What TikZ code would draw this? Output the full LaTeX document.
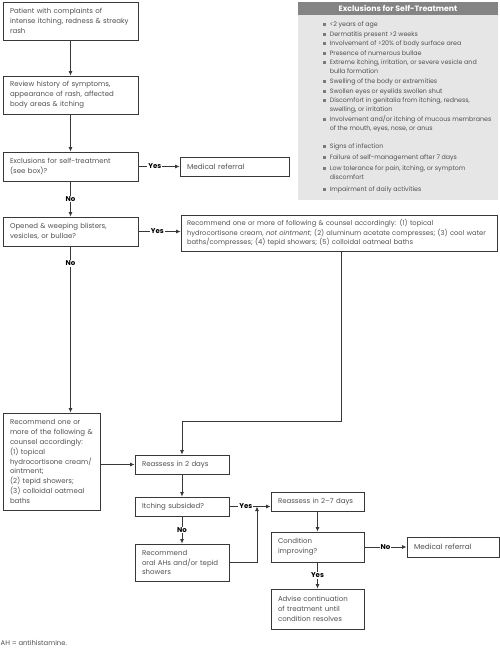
\documentclass[tikz,border=0pt]{standalone}
\usepackage{fontspec}
\setmainfont{Poppins}
\usetikzlibrary{arrows.meta,calc}
\definecolor{txt}{HTML}{505050}
\definecolor{ln}{HTML}{383838}
\definecolor{panel}{HTML}{E6E6E7}
\definecolor{head}{HTML}{848484}
\definecolor{bul}{HTML}{7A7A7A}
\newcommand{\bulsq}{\textcolor{bul}{\rule[0.6pt]{2.6pt}{2.6pt}}\hspace{4pt}}
\begin{document}
\begin{tikzpicture}[x=1pt,y=-1pt,
  font=\fontsize{7}{9.8}\selectfont,
  box/.style={draw=ln,line width=0.8pt,rectangle,inner xsep=7pt,inner ysep=0pt,text=txt,align=left},
  arr/.style={draw=ln,line width=0.8pt,-{Latex[length=4.5pt,width=4pt]}},
  lab/.style={fill=white,inner sep=1pt,text=black,font=\fontsize{7}{8}\selectfont\bfseries},
  item/.style={anchor=base west,inner sep=0pt,text=txt,align=left,font=\fontsize{6.3}{9.3}\selectfont}]
\useasboundingbox (0,0) rectangle (500,648);
% exclusions panel
\fill[panel] (298,2) rectangle (498,200);
\fill[head] (298,2) rectangle (498,15);
\node[text=white,font=\fontsize{7.8}{8}\selectfont\bfseries] (hd) at (398,8.8) {Exclusions for Self-Treatment};
\node[item] (e1) at (323,26.5) {\bulsq <2 years of age};
\node[item] (e2) at (323,36.5) {\bulsq Dermatitis present >2 weeks};
\node[item] (e3) at (323,45.5) {\bulsq Involvement of >20\% of body surface area};
\node[item] (e4) at (323,55.5) {\bulsq Presence of numerous bullae};
\node[item] (e5) at (323,73.5) {\bulsq Extreme itching, irritation, or severe vesicle and\\\hspace*{6.6pt}bulla formation};
\node[item] (e6) at (323,83.5) {\bulsq Swelling of the body or extremities};
\node[item] (e7) at (323,93.5) {\bulsq Swollen eyes or eyelids swollen shut};
\node[item] (e8) at (323,111.5) {\bulsq Discomfort in genitalia from itching, redness,\\\hspace*{6.6pt}swelling, or irritation};
\node[item] (e9) at (323,130.5) {\bulsq Involvement and/or itching of mucous membranes\\\hspace*{6.6pt}of the mouth, eyes, nose, or anus};
\node[item] (e10) at (323,148.5) {\bulsq Signs of infection};
\node[item] (e11) at (323,159.5) {\bulsq Failure of self-management after 7 days};
\node[item] (e12) at (323,179.5) {\bulsq Low tolerance for pain, itching, or symptom\\\hspace*{6.6pt}discomfort};
\node[item] (e13) at (323,191.5) {\bulsq Impairment of daily activities};
% boxes
\node[box,minimum width=135pt,minimum height=38pt,text width=121pt] (b1) at (70.5,21) {Patient with complaints of\\intense itching, redness \& streaky\\rash};
\node[box,minimum width=135pt,minimum height=38pt,text width=121pt] (b2) at (70.5,95) {Review history of symptoms,\\appearance of rash, affected\\body areas \& itching};
\node[box,minimum width=135pt,minimum height=29pt,text width=121pt] (b3) at (70.5,166.5) {Exclusions for self-treatment\\(see box)?};
\node[box,minimum width=109pt,minimum height=19pt,text width=95pt,font=\fontsize{7.3}{9.8}\selectfont] (mr1) at (234.5,166.5) {Medical referral};
\node[box,minimum width=135pt,minimum height=29pt,text width=121pt] (b4) at (70.5,231.5) {Opened \& weeping blisters,\\vesicles, or bullae?};
\node[box,minimum width=316pt,minimum height=36pt,text width=304pt,inner xsep=6pt,font=\fontsize{6.75}{9.6}\selectfont] (rec1) at (339,233) {Recommend one or more of following \& counsel accordingly: (1) topical\\hydrocortisone cream, \emph{not ointment}; (2) aluminum acetate compresses; (3) cool water\\baths/compresses; (4) tepid showers; (5) colloidal oatmeal baths};
\node[box,minimum width=97pt,minimum height=97pt,text width=83pt] (rec2) at (51.5,461.5) {Recommend one or\\more of the following \&\\counsel accordingly:\\(1) topical\\hydrocortisone cream/\\ointment;\\(2) tepid showers;\\(3) colloidal oatmeal\\baths};
\node[box,minimum width=94pt,minimum height=19pt,text width=80pt] (re2) at (182,464.5) {Reassess in 2 days};
\node[box,minimum width=94pt,minimum height=19pt,text width=80pt] (itch) at (182,506.5) {Itching subsided?};
\node[box,minimum width=94pt,minimum height=37pt,text width=80pt] (oral) at (182,562.5) {Recommend\\oral AHs and/or tepid\\showers};
\node[box,minimum width=93pt,minimum height=19pt,text width=79pt] (re27) at (317.5,501.5) {Reassess in 2–7 days};
\node[box,minimum width=93pt,minimum height=30pt,text width=79pt] (cond) at (317.5,547) {Condition\\improving?};
\node[box,minimum width=92pt,minimum height=20pt,text width=78pt,font=\fontsize{7.3}{9.8}\selectfont] (mr2) at (453,547) {Medical referral};
\node[box,minimum width=93pt,minimum height=40pt,text width=79pt] (adv) at (317.5,609) {Advise continuation\\of treatment until\\condition resolves};
\node[anchor=base west,inner sep=0pt,text=txt,font=\fontsize{6.8}{7}\selectfont] (fn) at (0.5,645) {AH = antihistamine.};
% connectors
\coordinate (t1) at (341,421);
\coordinate (j) at (257,506.5);
\draw[arr] (b1) -- (b2);
\draw[arr] (b2) -- (b3);
\draw[arr] (b3) -- node[lab,pos=0.4] {Yes} (mr1);
\draw[arr] (b3) -- node[lab] {No} (b4);
\draw[arr] (b4.east) -- node[lab,pos=0.45] {Yes} (b4.east -| rec1.west);
\draw[arr] (b4.south) -- node[lab,pos=0.1] {No} (b4.south |- rec2.north);
\draw[arr] (rec1.south -| t1) -- (t1) -| (re2.north);
\draw[arr] (rec2.east |- re2.west) -- (re2.west);
\draw[arr] (re2) -- (itch);
\draw[arr] (itch) -- node[lab] {No} (oral);
\draw[arr] (itch.east) -- node[lab,pos=0.4] {Yes} (itch.east -| re27.west);
\draw[arr] (oral.east) -| (j);
\draw[arr] (re27) -- (cond);
\draw[arr] (cond) -- node[lab] {No} (mr2);
\draw[arr] (cond) -- node[lab] {Yes} (adv);
\end{tikzpicture}
\end{document}
